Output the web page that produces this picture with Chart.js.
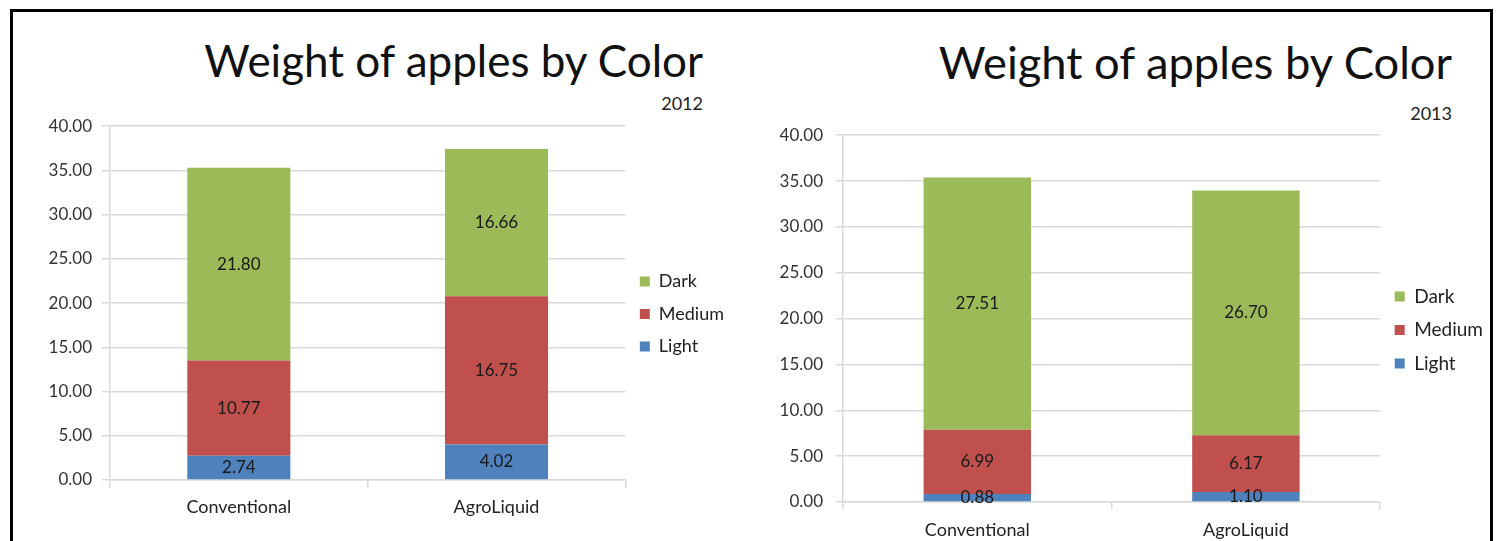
<!DOCTYPE html>
<html>
<head>
<meta charset="utf-8">
<script src="https://cdn.jsdelivr.net/npm/chart.js@4.4.0/dist/chart.umd.min.js"></script>
<style>
  body { margin: 0; background: #fff; width: 1498px; height: 541px; overflow: hidden; position: relative; font-family: Lato, sans-serif; }
  .frame { position: absolute; left: 10px; top: 9px; width: 1477px; height: 600px; border: 3px solid #000; }
  .box { position: absolute; }
  .title { position: absolute; color: #111; white-space: nowrap; }
  .year { position: absolute; color: #222; font-size: 18px; }
</style>
</head>
<body>
<div class="frame"></div>
<div class="title" style="right:795px; top:34px; font-size:44px;">Weight of apples by Color</div>
<div class="year" style="right:795px; top:92px;">2012</div>
<div class="title" style="right:46px; top:34px; font-size:45.3px;">Weight of apples by Color</div>
<div class="year" style="right:46px; top:102px;">2013</div>
<div class="box" style="left:20px; top:106px; width:720px; height:414px;"><canvas id="c2012"></canvas></div>
<div class="box" style="left:760px; top:112px; width:734px; height:429px;"><canvas id="c2013"></canvas></div>

<script>
const categories = ['Conventional', 'AgroLiquid'];
const seriesNames = ['Light', 'Medium', 'Dark'];
const seriesColors = ['#4F81BD', '#C0504D', '#9BBB59'];

const light2012 = [2.74, 4.02];
const medium2012 = [10.77, 16.75];
const dark2012 = [21.80, 16.66];

const light2013 = [0.88, 1.10];
const medium2013 = [6.99, 6.17];
const dark2013 = [27.51, 26.70];

const yMin = 0, yMax = 40, yStep = 5;

// value labels in the middle of every stacked segment
const segmentLabels = {
  id: 'segmentLabels',
  afterDatasetsDraw(chart) {
    const ctx = chart.ctx;
    ctx.save();
    ctx.font = '17px Lato';
    ctx.fillStyle = '#1a1a1a';
    ctx.textAlign = 'center';
    ctx.textBaseline = 'middle';
    chart.data.datasets.forEach((ds, i) => {
      chart.getDatasetMeta(i).data.forEach((bar, j) => {
        ctx.fillText(ds.data[j].toFixed(2), bar.x, (bar.y + bar.base) / 2);
      });
    });
    ctx.restore();
  }
};

function makeChart(id, series, lay) {
  return new Chart(document.getElementById(id), {
    type: 'bar',
    data: {
      labels: categories,
      datasets: series.map((vals, i) => ({
        label: seriesNames[i],
        data: vals,
        backgroundColor: seriesColors[i],
        borderWidth: 0,
        categoryPercentage: 1,
        barPercentage: 0.4
      }))
    },
    options: {
      responsive: true,
      maintainAspectRatio: false,
      animation: false,
      devicePixelRatio: 1,
      layout: { padding: { top: lay.top, right: lay.right, bottom: 0, left: 0 } },
      plugins: {
        title: { display: false },
        tooltip: { enabled: false },
        legend: {
          position: 'right',
          reverse: true,
          labels: {
            boxWidth: 10,
            boxHeight: 10,
            padding: lay.legendPad,
            color: '#222',
            font: { family: 'Lato', size: lay.legendSize }
          }
        }
      },
      scales: {
        x: {
          stacked: true,
          afterFit: s => { s.height = lay.xHeight; },
          grid: { drawOnChartArea: false, drawTicks: true, tickLength: lay.tick, color: '#d9d9d9', lineWidth: 1.5 },
          border: { color: '#d9d9d9', width: 1.5 },
          ticks: { color: '#222', padding: lay.xPad, font: { family: 'Lato', size: 18 } }
        },
        y: {
          stacked: true,
          min: yMin,
          max: yMax,
          afterFit: s => { s.width = lay.yWidth; },
          grid: { color: '#d9d9d9', lineWidth: 1.5, tickLength: lay.tick },
          border: { color: '#d9d9d9', width: 1.5 },
          ticks: {
            stepSize: yStep,
            color: '#333',
            padding: lay.yPad,
            font: { family: 'Lato', size: 17 },
            callback: v => v.toFixed(2)
          }
        }
      }
    },
    plugins: [segmentLabels]
  });
}

makeChart('c2012', [light2012, medium2012, dark2012],
  { top: 2, right: 6, xHeight: 40, yWidth: 90, tick: 8, xPad: 8, yPad: 10, legendPad: 14.5, legendSize: 18 });
makeChart('c2013', [light2013, medium2013, dark2013],
  { top: 7, right: 1, xHeight: 39, yWidth: 83, tick: 7, xPad: 10, yPad: 13, legendPad: 14.5, legendSize: 19 });
</script>
</body>
</html>
